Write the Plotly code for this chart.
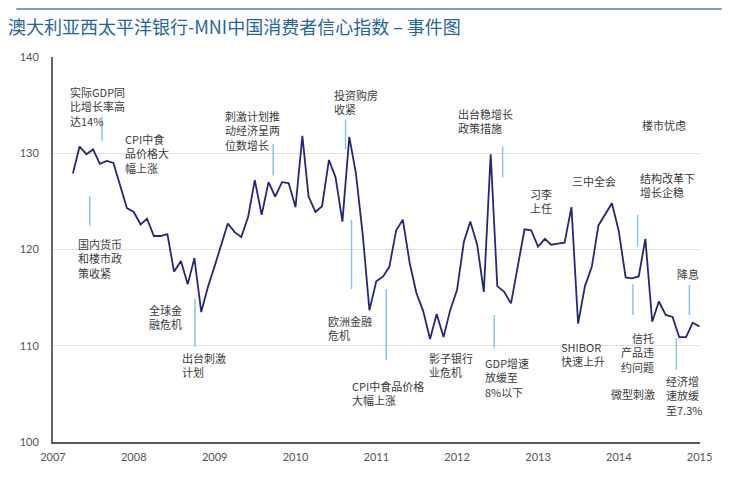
import plotly.graph_objects as go
import pandas as pd

# ---------------- data ----------------
title_text = "澳大利亚西太平洋银行-MNI中国消费者信心指数 – 事件图"
start_month = "2007-04-01"
index_values = [
    127.9, 130.7, 129.9, 130.4, 128.9, 129.2, 129.0, 126.7, 124.3,            # 2007 Apr-Dec
    123.9, 122.6, 123.2, 121.4, 121.4, 121.6, 117.7, 118.8, 116.4, 119.1, 113.5, 116.1,  # 2008
    118.3, 120.5, 122.7, 121.8, 121.3, 123.4, 127.2, 123.6, 127.0, 125.5, 127.0, 126.9,  # 2009
    124.4, 131.8, 125.5, 123.9, 124.5, 129.3, 127.5, 122.9, 131.7, 127.9, 121.5, 113.7,  # 2010
    116.7, 117.2, 118.2, 122.0, 123.1, 118.6, 115.5, 113.6, 110.7, 113.3, 110.9, 113.7,  # 2011
    115.8, 120.8, 122.9, 120.5, 115.6, 129.9, 116.2, 115.6, 114.4, 118.2, 122.1, 122.0,  # 2012
    120.3, 121.1, 120.5, 120.6, 120.7, 124.4, 112.3, 116.2, 118.2, 122.5, 123.6, 124.8,  # 2013
    121.9, 117.1, 117.0, 117.2, 121.1, 112.5, 114.6, 113.2, 113.0, 110.9, 110.9, 112.4,  # 2014
    112.0,                                                                     # 2015 Jan
]
year_labels = ["2007", "2008", "2009", "2010", "2011", "2012", "2013", "2014", "2015"]
y_ticks = [100, 110, 120, 130, 140]

event_labels = [
    "实际GDP同<br>比增长率高<br>达14%",
    "CPI中食<br>品价格大<br>幅上涨",
    "国内货币<br>和楼市政<br>策收紧",
    "全球金<br>融危机",
    "出台刺激<br>计划",
    "刺激计划推<br>动经济呈两<br>位数增长",
    "投资购房<br>收紧",
    "欧洲金融<br>危机",
    "CPI中食品价格<br>大幅上涨",
    "影子银行<br>业危机",
    "GDP增速<br>放缓至<br>8%以下",
    "出台稳增长<br>政策措施",
    "习李<br>上任",
    "三中全会",
    "楼市忧虑",
    "结构改革下<br>增长企稳",
    "SHIBOR<br>快速上升",
    "信托<br>产品违<br>约问题",
    "微型刺激",
    "经济增<br>速放缓<br>至7.3%",
    "降息",
]

# ---------------- layout / positions ----------------
OFF = 8                      # page body margin
W, H = 731 - OFF, 498 - OFF
L, T = 45 - OFF, 57 - OFF
R, B = 31, 56
PW, PH = W - L - R, H - T - B

def px(x):                   # page pixel -> paper x
    return (x - OFF - L) / PW

def py(y):                   # page pixel -> paper y
    return (H - B - (y - OFF)) / PH

# label positions in page pixels: (x, first-line centre y, anchor)
label_pos = [
    (62, 91, "left"), (118, 138, "left"), (70, 243, "left"), (142, 309, "left"),
    (176, 357, "left"), (219, 115, "left"), (329, 94, "left"), (323, 320, "left"),
    (348, 385, "left"), (426, 357, "left"), (482, 362, "left"), (455, 113, "left"),
    (528, 193, "left"), (570, 180, "left"), (641, 124, "left"), (639, 177, "left"),
    (559, 346, "left"), (653, 337, "right"), (610, 393, "left"), (666, 380, "left"),
    (677, 273, "left"),
]

# connector lines: (event date, y from, y to) in data units
connectors = [
    ("2007-08-10", 131.3, 133.8),
    ("2007-06-16", 122.5, 125.5),
    ("2008-10-04", 109.9, 114.9),
    ("2009-09-22", 127.7, 131.0),
    ("2010-08-15", 130.4, 133.5),
    ("2010-09-11", 115.9, 123.1),
    ("2011-02-15", 108.5, 115.9),
    ("2012-06-17", 109.8, 113.2),
    ("2012-07-25", 127.5, 130.7),
    ("2014-03-27", 120.3, 123.6),
    ("2014-03-06", 113.2, 116.4),
    ("2014-11-16", 113.2, 116.3),
    ("2014-09-18", 107.5, 110.8),
]

months = pd.date_range(start_month, periods=len(index_values), freq="MS")
year_dates = [f"{y}-01-01" for y in year_labels]

fig = go.Figure()
fig.add_trace(go.Scatter(
    x=months, y=index_values, mode="lines",
    line=dict(color="#262680", width=1.8),
    hoverinfo="skip", showlegend=False,
))

shapes = []
for d, y0, y1 in connectors:
    shapes.append(dict(type="line", xref="x", yref="y", x0=d, x1=d, y0=y0, y1=y1,
                       line=dict(color="#86c6ee", width=1.5), layer="above"))
# top rule
shapes.append(dict(type="line", xref="paper", yref="paper",
                   x0=px(OFF), x1=px(722), y0=py(9), y1=py(9),
                   line=dict(color="#7f9cba", width=2)))

annotations = []
for txt, (x, yc, anc) in zip(event_labels, label_pos):
    annotations.append(dict(
        text=txt, xref="paper", yref="paper",
        x=px(x - 2 if anc == "left" else x + 2), y=py(yc - 9),
        xanchor=anc, yanchor="top", align=anc, showarrow=False,
        font=dict(family="Noto Sans CJK SC", size=11, color="#3c3c3c"),
    ))

fig.update_layout(
    width=W, height=H,
    margin=dict(l=L, r=R, t=T, b=B),
    paper_bgcolor="white", plot_bgcolor="white",
    title=dict(text=title_text, xref="container", yref="container",
               x=0, y=1 - (28 - OFF) / H, xanchor="left", yanchor="middle",
               font=dict(family="Noto Sans CJK SC", size=18, color="#2466a0")),
    shapes=shapes, annotations=annotations,
    xaxis=dict(
        type="date", range=["2007-01-01", "2015-01-03"],
        tickvals=year_dates, ticktext=year_labels,
        showgrid=False, zeroline=False,
        showline=True, linecolor="#5a5a5a", linewidth=1.5,
        ticks="", ticklabelstandoff=4,
        tickfont=dict(family="Lato", size=11, color="#555555"),
    ),
    yaxis=dict(
        range=[100, 140], tickvals=y_ticks,
        showgrid=True, gridcolor="#e2e2e2", gridwidth=1, zeroline=False,
        showline=True, linecolor="#666666", linewidth=2,
        ticks="", ticklabelstandoff=10,
        tickfont=dict(family="Lato", size=11, color="#555555"),
    ),
)

fig.write_html("out.html")
